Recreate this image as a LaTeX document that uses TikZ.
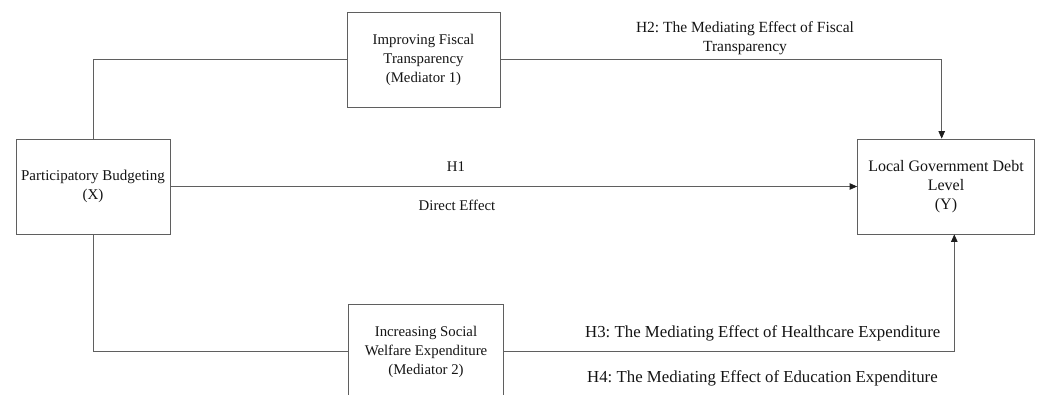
\documentclass[tikz,border=0pt]{standalone}
\usepackage{fontspec}
\setmainfont{Liberation Serif}
\usetikzlibrary{arrows.meta}
\definecolor{linegray}{RGB}{95,95,95}
\definecolor{tipcol}{RGB}{30,30,30}
\definecolor{txt}{RGB}{20,20,20}
\frenchspacing
\begin{document}
\begin{tikzpicture}[x=1pt,y=-1pt,
  every node/.style={text=txt},
  fs/.style={font=\fontsize{#1}{19}\selectfont},
  box/.style={draw=linegray,line width=0.8pt,align=center,minimum height=95pt,inner sep=0pt},
  conn/.style={draw=linegray,line width=0.8pt},
  arr/.style={conn,-{Triangle[length=7.5pt,width=6.5pt,color=tipcol]}},
  lbl/.style={inner sep=0pt,align=center}]
\clip (0,0) rectangle (1038,394);
\node[box,fs=15,minimum width=154pt] (X) at (93,186.5) {Participatory Budgeting\\(X)};
\node[box,fs=14.8,minimum width=153pt] (M1) at (423.5,59.5) {Improving Fiscal\\Transparency\\(Mediator 1)};
\node[box,fs=16,minimum width=177pt] (Y) at (946,186.5) {Local Government Debt\\Level\\(Y)};
\node[box,fs=14.8,minimum width=155pt] (M2) at (426,351.5) {Increasing Social\\Welfare Expenditure\\(Mediator 2)};
\draw[conn] (X.north) |- (M1.west);
\draw[arr] (M1.east) -| ([xshift=-4.3pt]Y.north);
\draw[arr] (X.east) -- (Y.west);
\draw[conn] (X.south) |- (M2.west);
\draw[arr] (M2.east) -| ([xshift=8.3pt]Y.south);
\node[lbl,fs=15.5] (h2) at (745,38.5) {H2: The Mediating Effect of Fiscal\\Transparency};
\node[lbl,fs=14.8] (h1) at (456,167) {H1};
\node[lbl,fs=14.8] (de) at (457,205) {Direct Effect};
\node[lbl,fs=16.8,anchor=west] (h3) at (585,333) {H3: The Mediating Effect of Healthcare Expenditure};
\node[lbl,fs=16.8,anchor=west] (h4) at (587,378) {H4: The Mediating Effect of Education Expenditure};
\end{tikzpicture}
\end{document}
